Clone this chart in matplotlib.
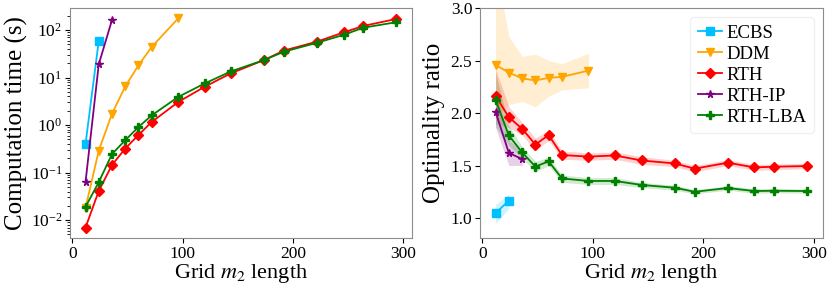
import matplotlib
matplotlib.use('Agg')
import matplotlib.pyplot as plt
import numpy as np

plt.rcParams['font.family'] = ['Liberation Serif', 'DejaVu Serif']
plt.rcParams['mathtext.fontset'] = 'stix'

# grid sizes
x_ecbs = [12, 24]
x_ddm = [12, 24, 36, 48, 60, 72, 96]
x_ip = [12, 24, 36]
x_rth = [12, 24, 36, 48, 60, 72, 96, 120, 144, 174, 192, 222, 246, 264, 294]

# computation time (s)
t_ecbs = [0.40, 59]
t_ddm = [0.018, 0.29, 1.73, 6.5, 18, 44, 175]
t_ip = [0.063, 19, 162]
t_rth = [0.007, 0.041, 0.145, 0.32, 0.62, 1.16, 3.05, 6.4, 12.3, 23.4, 37, 57, 89, 122, 171]
t_lba = [0.019, 0.063, 0.246, 0.48, 0.91, 1.6, 3.9, 7.5, 13.5, 23.4, 35, 54, 79, 112, 146]

# optimality ratio (mean, lower, upper)
r_ecbs = [1.048, 1.165]
r_ecbs_lo = [0.95, 1.09]
r_ecbs_hi = [1.13, 1.23]
r_ddm = [2.458, 2.385, 2.33, 2.31, 2.335, 2.344, 2.404]
r_ddm_lo = [1.95, 2.08, 2.11, 2.06, 2.16, 2.22, 2.24]
r_ddm_hi = [3.4, 2.73, 2.54, 2.56, 2.50, 2.47, 2.57]
r_ip = [2.011, 1.62, 1.562]
r_ip_lo = [1.86, 1.50, 1.50]
r_ip_hi = [2.2, 1.745, 1.63]
r_rth = [2.164, 1.96, 1.85, 1.70, 1.79, 1.60, 1.585, 1.596, 1.548, 1.52, 1.47, 1.527, 1.482, 1.489, 1.495]
r_rth_lo = [1.90, 1.86, 1.79, 1.64, 1.74, 1.56, 1.55, 1.56, 1.51, 1.49, 1.44, 1.50, 1.455, 1.46, 1.47]
r_rth_hi = [2.42, 2.06, 1.91, 1.76, 1.84, 1.64, 1.62, 1.63, 1.585, 1.55, 1.50, 1.555, 1.51, 1.515, 1.52]
r_lba = [2.125, 1.786, 1.625, 1.49, 1.54, 1.377, 1.353, 1.353, 1.315, 1.289, 1.25, 1.286, 1.257, 1.26, 1.257]
r_lba_lo = [1.87, 1.69, 1.57, 1.44, 1.50, 1.34, 1.32, 1.32, 1.29, 1.265, 1.23, 1.265, 1.235, 1.24, 1.237]
r_lba_hi = [2.38, 1.88, 1.68, 1.54, 1.58, 1.41, 1.385, 1.385, 1.34, 1.313, 1.27, 1.307, 1.28, 1.28, 1.277]

fig = plt.figure(figsize=(8.31, 2.89), dpi=100)
ax1 = fig.add_axes([0.0842, 0.1765, 0.4116, 0.7958])
ax2 = fig.add_axes([0.5776, 0.1765, 0.4128, 0.7958])

series = [
    ('ECBS', 'deepskyblue', 's', x_ecbs, t_ecbs, r_ecbs, r_ecbs_lo, r_ecbs_hi),
    ('DDM', 'orange', 'v', x_ddm, t_ddm, r_ddm, r_ddm_lo, r_ddm_hi),
    ('RTH', 'red', 'D', x_rth, t_rth, r_rth, r_rth_lo, r_rth_hi),
    ('RTH-IP', 'purple', '*', x_ip, t_ip, r_ip, r_ip_lo, r_ip_hi),
    ('RTH-LBA', 'green', 'P', x_rth, t_lba, r_lba, r_lba_lo, r_lba_hi),
]

for name, c, m, xs, ts, rs, lo, hi in series:
    ax1.plot(xs, ts, color=c, marker=m, markersize=5.5, linewidth=1.3, label=name)
    ax2.plot(xs, rs, color=c, marker=m, markersize=5.5, linewidth=1.3, label=name)
    ax2.fill_between(xs, lo, hi, color=c, alpha=0.18, linewidth=0)

ax1.set_yscale('log')
ax1.set_ylabel('Computation time (s)', fontsize=18, labelpad=2)
ax1.set_xlabel('Grid $m_2$ length', fontsize=16, labelpad=0)
ax2.set_ylabel('Optimality ratio', fontsize=18)
ax2.set_xlabel('Grid $m_2$ length', fontsize=16, labelpad=0)
ax2.set_ylim(0.81, 3.0)
ax2.set_yticks([1.0, 1.5, 2.0, 2.5, 3.0])
leg = ax2.legend(loc='upper right', fontsize=13.5, handlelength=1.3, handletextpad=0.2,
                 borderpad=0.4, labelspacing=0.2)
leg.get_frame().set_edgecolor('0.93')

for ax in (ax1, ax2):
    ax.set_xticks([0, 100, 200, 300])
    ax.tick_params(labelsize=12.5, pad=2)
    for s in ax.spines.values():
        s.set_color('0.55')

plt.savefig('out.png')
